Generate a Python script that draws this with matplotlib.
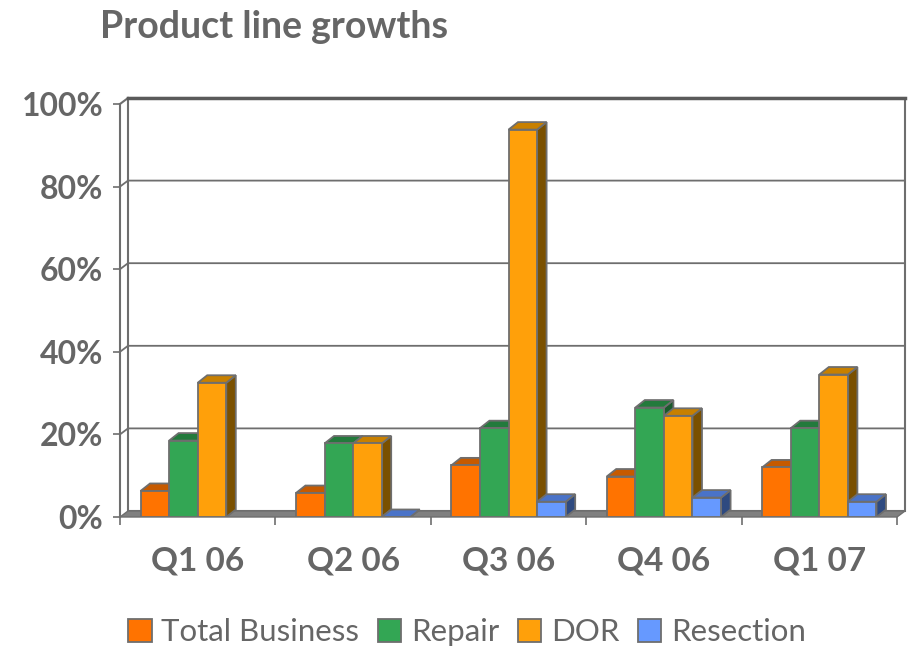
import matplotlib
matplotlib.use('Agg')
from matplotlib import pyplot as plt
from matplotlib.patches import Polygon, Patch
import numpy as np

# chart data
quarters = ['Q1 06', 'Q2 06', 'Q3 06', 'Q4 06', 'Q1 07']
series = ['Total Business', 'Repair', 'DOR', 'Resection']
total_business = [6.3, 5.8, 12.5, 9.8, 12]
repair = [18.5, 17.8, 21.5, 26.5, 21.5]
dor = [32.5, 17.8, 93.8, 24.5, 34.5]
resection = [None, 0, 3.7, 4.7, 3.7]   # no value for Q1 06
yticks = [0, 20, 40, 60, 80, 100]

values = [total_business, repair, dor, resection]
front_cols = ['#FF7300', '#33A654', '#FFA00A', '#6699FF']
top_cols = ['#C65A00', '#237A3C', '#C88000', '#4A73C8']
side_cols = ['#8A3F00', '#1A5A2C', '#7A5000', '#2E4A80']
edge = '#6E6E6E'
grey = '#666666'

fig = plt.figure(figsize=(9.11, 6.47), dpi=100)
ax = fig.add_axes([120/911, 130/647, 777/911, 413/647])
ax.set_xlim(0, 5)
ax.set_ylim(0, 100)

px_x = 777/5      # pixels per category
px_y = 413/100    # pixels per percent
wdx, wdy = 8/px_x, 6/px_y      # wall depth
bdx, bdy = 9.5/px_x, 7.5/px_y  # bar depth

# back wall and left wall
ax.add_patch(Polygon([(wdx, wdy), (5+wdx, wdy), (5+wdx, 100+wdy), (wdx, 100+wdy)],
                     closed=True, fc='white', ec=edge, lw=1.5, clip_on=False, zorder=1))
ax.plot([0, 0], [0, 100], color=edge, lw=1.5, clip_on=False, zorder=2)
ax.plot([0, wdx], [100, 100+wdy], color=edge, lw=1.5, clip_on=False, zorder=2)
ax.plot([wdx, 5+wdx], [100+wdy, 100+wdy], color='#5A5A5A', lw=2.5, clip_on=False, zorder=2)
for v in yticks[1:-1]:
    ax.plot([0, wdx, 5+wdx], [v, v+wdy, v+wdy], color=edge, lw=1.3, clip_on=False, zorder=2)

# floor
ax.add_patch(Polygon([(0, 0), (5, 0), (5+wdx, wdy), (wdx, wdy)], closed=True,
                     fc='#808080', ec=edge, lw=1, clip_on=False, zorder=3))

# 3d-looking bars, drawn left to right so neighbours hide side faces
width = 0.184
x = np.arange(len(quarters))
for i in range(len(quarters)):
    for j, vals in enumerate(values):
        h = vals[i]
        if h is None:
            continue
        left = i + 0.5 - 2*width + j*width
        ax.add_patch(Polygon([(left+width, 0), (left+width+bdx, bdy), (left+width+bdx, h+bdy), (left+width, h)],
                             closed=True, fc=side_cols[j], ec=edge, lw=1.3, zorder=4))
        ax.add_patch(Polygon([(left, h), (left+width, h), (left+width+bdx, h+bdy), (left+bdx, h+bdy)],
                             closed=True, fc=top_cols[j], ec=edge, lw=1.3, zorder=4))
        ax.bar(left, h, width, align='edge', color=front_cols[j], edgecolor=edge, lw=1.3, zorder=4)

for s in ax.spines.values():
    s.set_visible(False)

ax.set_yticks(yticks)
ax.set_yticklabels([f'{v}%' for v in yticks])
ax.tick_params(axis='y', length=5, width=1.2, color=edge, pad=7, labelsize=23, labelcolor=grey)
ax.set_xticks(range(6))
ax.set_xticklabels([])
ax.tick_params(axis='x', which='major', length=6, width=1.2, color=edge)
ax.set_xticks(x + 0.5, minor=True)
ax.set_xticklabels(quarters, minor=True)
ax.tick_params(axis='x', which='minor', length=0, pad=21, labelsize=24, labelcolor=grey)
for lab in ax.get_xticklabels(minor=True) + ax.get_yticklabels():
    lab.set_fontfamily('Lato')
    lab.set_fontweight('bold')

fig.text(100/911, 1-27/647, 'Product line growths', fontsize=27, fontweight='bold',
         color=grey, family='Lato', ha='left', va='center')

handles = [Patch(fc=front_cols[j], ec=edge, lw=1.3) for j in range(len(series))]
leg = fig.legend(handles, series, loc='center', bbox_to_anchor=(467/911, 1-632/647), ncol=4,
                 frameon=False, handlelength=0.75, handleheight=0.75, handletextpad=0.3,
                 columnspacing=0.6, prop={'family': 'Lato', 'size': 22.5})
for t in leg.get_texts():
    t.set_color(grey)

plt.savefig('out.png', dpi=100)
